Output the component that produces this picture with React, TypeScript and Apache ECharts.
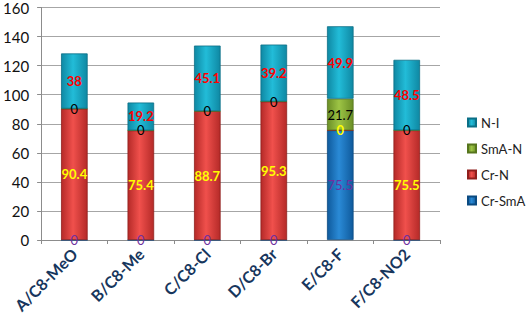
import React, { useEffect, useRef } from "react";
import * as echarts from "echarts";

const categories = ["A/C8-MeO", "B/C8-Me", "C/C8-Cl", "D/C8-Br", "E/C8-F", "F/C8-NO2"];
const crSmA = [0, 0, 0, 0, 75.5, 0];
const crN = [90.4, 75.4, 88.7, 95.3, 0, 75.5];
const smAN = [0, 0, 0, 0, 21.7, 0];
const nI = [38, 19.2, 45.1, 39.2, 49.9, 48.5];

const FONT = "Lato, 'Noto Sans', sans-serif";

function grad(dark: string, light: string) {
  return new echarts.graphic.LinearGradient(0, 0, 1, 0, [
    { offset: 0, color: dark },
    { offset: 0.45, color: light },
    { offset: 1, color: dark },
  ]);
}

export default function App() {
  const ref = useRef<HTMLDivElement>(null);
  useEffect(() => {
    document.body.style.margin = "0";
    if (!ref.current) return;
    const chart = echarts.init(ref.current, undefined, { renderer: "svg" });
    const mk = (
      name: string,
      data: number[],
      dark: string,
      light: string,
      border: string,
      labelColor: string,
      bold: boolean
    ) => ({
      name,
      type: "bar",
      stack: "total",
      data,
      barWidth: "40%",
      itemStyle: { color: grad(dark, light), borderColor: border, borderWidth: 0.8 },
      label: {
        show: true,
        position: "inside",
        color: labelColor,
        fontFamily: FONT,
        fontSize: 13,
        fontWeight: bold ? "bold" : "normal",
      },
    });
    chart.setOption({
      animation: false,
      textStyle: { fontFamily: FONT },
      grid: { left: 37, right: 86, top: 7, bottom: 76 },
      legend: {
        orient: "vertical",
        left: 462,
        top: 111,
        itemWidth: 8,
        itemHeight: 8,
        itemGap: 13,
        icon: "rect",
        textStyle: { fontFamily: FONT, fontSize: 13, color: "#222" },
        data: ["N-I", "SmA-N", "Cr-N", "Cr-SmA"],
      },
      xAxis: {
        type: "category",
        data: categories,
        axisLine: { lineStyle: { color: "#8c8c8c" } },
        axisTick: { show: true, length: 4, lineStyle: { color: "#8c8c8c" } },
        axisLabel: {
          rotate: 45,
          margin: 11,
          color: "#17365d",
          fontWeight: "bold",
          fontSize: 16,
          fontFamily: FONT,
          interval: 0,
        },
      },
      yAxis: {
        type: "value",
        min: 0,
        max: 160,
        interval: 20,
        axisLine: { show: true, lineStyle: { color: "#8c8c8c" } },
        axisTick: { show: true, length: 4, lineStyle: { color: "#8c8c8c" } },
        splitLine: { lineStyle: { color: "#a6a6a6" } },
        axisLabel: { color: "#111", fontSize: 15, fontFamily: FONT, margin: 12 },
      },
      series: [
        mk("Cr-SmA", crSmA, "#0f5a9c", "#2a8ad6", "#0b4a80", "#7030a0", false),
        mk("Cr-N", crN, "#b52a28", "#f0504c", "#8f1f1d", "#ffff00", true),
        mk("SmA-N", smAN, "#6a8e26", "#9dc445", "#56751d", "#000000", false),
        mk("N-I", nI, "#0f88a3", "#22bcd8", "#0b6f86", "#ff0000", true),
      ],
      color: ["#1f7fc8", "#e8413e", "#8db43a", "#1eafcb"],
    });
    return () => chart.dispose();
  }, []);
  return <div ref={ref} style={{ width: 526, height: 316 }} />;
}
